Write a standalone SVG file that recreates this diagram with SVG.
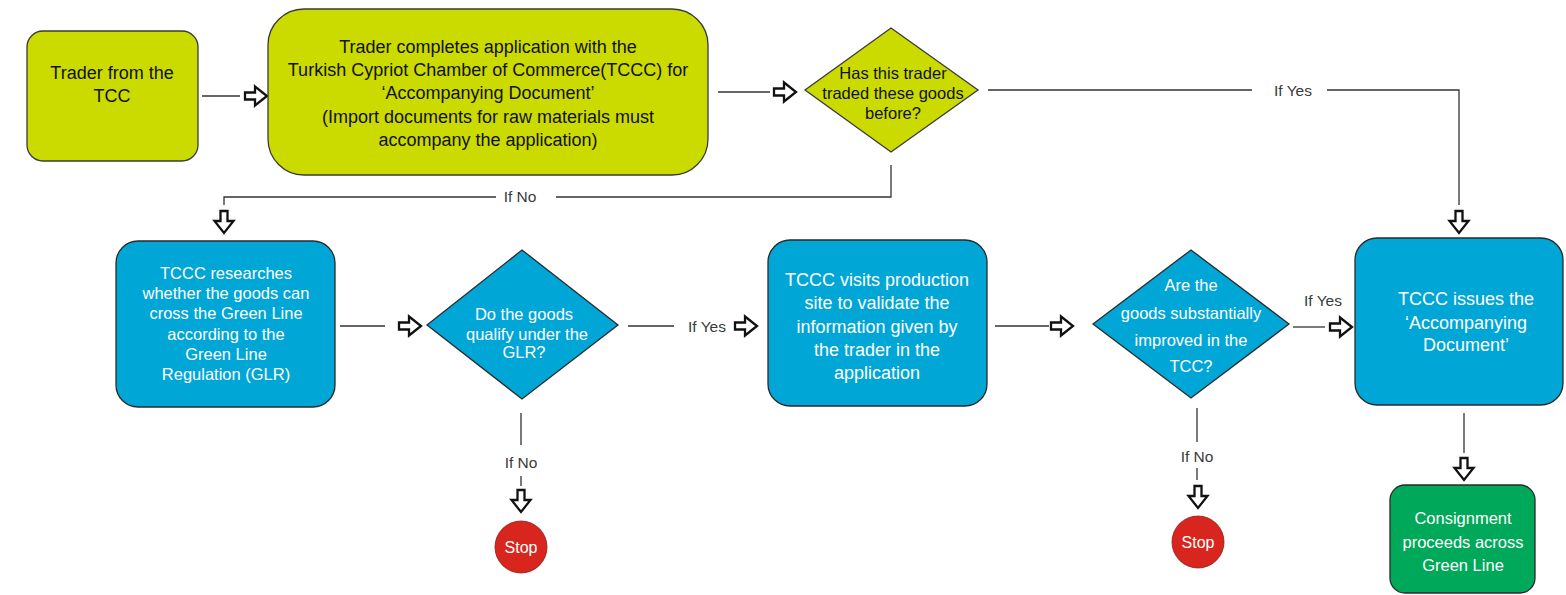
<svg xmlns="http://www.w3.org/2000/svg" xmlns:xlink="http://www.w3.org/1999/xlink" width="1566" height="595" viewBox="0 0 1566 595">
<style>
.yl{fill:#CBDB00;stroke:#3a3a3a;stroke-width:1.3}
.bl{fill:#00A6D6;stroke:#2a2a2a;stroke-width:1.3}
.gr{fill:#00A85A;stroke:#2a2a2a;stroke-width:1.3}
.rd{fill:#D8261E;stroke:#8a1a14;stroke-width:0.8}
text{font-family:"Liberation Sans",Arial,sans-serif;text-anchor:middle;dominant-baseline:central}
.tk{fill:#111;font-size:18px}
.tkd{fill:#111;font-size:16.5px}
.tw{fill:#fff;font-size:16.5px}
.tw18{fill:#fff;font-size:18px}
.lab{fill:#3a3a3a;font-size:15.5px}
.stop{fill:#fff;font-size:16px}
.ln{fill:none;stroke:#333;stroke-width:1.3}
.ar{fill:#fff;stroke:#111;stroke-width:2.3;stroke-linejoin:miter}
</style>
<defs>
<path id="arr" d="M0,-3.5 H10 V-9.5 L22,0 L10,9.5 V3.5 H0 Z"/>
</defs>

<g id="connectors">
<path class="ln" d="M202,96 H240"/>
<path class="ln" d="M718,92 H770"/>
<path class="ln" d="M988,90 H1252 M1327,90 H1459 V205"/>
<path class="ln" d="M891,165 V197 H556 M496,197 H224 V205"/>
<path class="ln" d="M340,326 H385"/>
<path class="ln" d="M628,326 H674"/>
<path class="ln" d="M995,326 H1049"/>
<path class="ln" d="M1293,327 H1325"/>
<path class="ln" d="M521,413 V445 M521,476 V486"/>
<path class="ln" d="M1197,408 V442 M1197,468 V480"/>
<path class="ln" d="M1464,413 V453"/>
<use xlink:href="#arr" class="ar" transform="translate(245,96)"/>
<use xlink:href="#arr" class="ar" transform="translate(774,92)"/>
<use xlink:href="#arr" class="ar" transform="translate(399,326)"/>
<use xlink:href="#arr" class="ar" transform="translate(735,326)"/>
<use xlink:href="#arr" class="ar" transform="translate(1051,326)"/>
<use xlink:href="#arr" class="ar" transform="translate(1330,327)"/>
<use xlink:href="#arr" class="ar" transform="translate(224,211) rotate(90)"/>
<use xlink:href="#arr" class="ar" transform="translate(1459,211) rotate(90)"/>
<use xlink:href="#arr" class="ar" transform="translate(521,490) rotate(90)"/>
<use xlink:href="#arr" class="ar" transform="translate(1198,486) rotate(90)"/>
<use xlink:href="#arr" class="ar" transform="translate(1464,458) rotate(90)"/>
<text class="lab" x="1293" y="90">If Yes</text>
<text class="lab" x="520" y="196">If No</text>
<text class="lab" x="707" y="326">If Yes</text>
<text class="lab" x="1323" y="300">If Yes</text>
<text class="lab" x="521" y="462">If No</text>
<text class="lab" x="1197" y="456">If No</text>
</g>

<g id="n1">
<rect class="yl" x="27" y="31" width="171" height="130" rx="16"/>
<text class="tk" x="112" y="73">Trader from the</text>
<text class="tk" x="112" y="96">TCC</text>
</g>

<g id="n2">
<rect class="yl" x="268" y="9" width="440" height="166" rx="36"/>
<text class="tk" x="488" y="47">Trader completes application with the</text>
<text class="tk" x="488" y="70">Turkish Cypriot Chamber of Commerce(TCCC) for</text>
<text class="tk" x="488" y="93">‘Accompanying Document’</text>
<text class="tk" x="488" y="117">(Import documents for raw materials must</text>
<text class="tk" x="488" y="140">accompany the application)</text>
</g>

<g id="d1">
<polygon class="yl" points="891,28 978,90 891,152 805,90"/>
<text class="tkd" x="893" y="73">Has this trader</text>
<text class="tkd" x="893" y="93">traded these goods</text>
<text class="tkd" x="893" y="113">before?</text>
</g>

<g id="n3">
<rect class="bl" x="116" y="241" width="219" height="166" rx="22"/>
<text class="tw" x="226" y="273">TCCC researches</text>
<text class="tw" x="226" y="293">whether the goods can</text>
<text class="tw" x="226" y="313">cross the Green Line</text>
<text class="tw" x="226" y="334">according to the</text>
<text class="tw" x="226" y="354">Green Line</text>
<text class="tw" x="226" y="374">Regulation (GLR)</text>
</g>

<g id="d2">
<polygon class="bl" points="522,250 618,325 522,399 427,325"/>
<text class="tw" x="524" y="314">Do the goods</text>
<text class="tw" x="527" y="334">qualify under the</text>
<text class="tw" x="524" y="352">GLR?</text>
</g>

<g id="n4">
<rect class="bl" x="768" y="240" width="219" height="166" rx="22"/>
<text class="tw18" x="877" y="280">TCCC visits production</text>
<text class="tw18" x="877" y="303">site to validate the</text>
<text class="tw18" x="877" y="327">information given by</text>
<text class="tw18" x="877" y="350">the trader in the</text>
<text class="tw18" x="877" y="373">application</text>
</g>

<g id="d3">
<polygon class="bl" points="1191,250 1289,324 1191,398 1093,324"/>
<text class="tw" x="1191" y="285">Are the</text>
<text class="tw" x="1191" y="313">goods substantially</text>
<text class="tw" x="1191" y="340">improved in the</text>
<text class="tw" x="1191" y="366">TCC?</text>
</g>

<g id="n5">
<rect class="bl" x="1355" y="238" width="208" height="167" rx="22"/>
<text class="tw18" x="1466" y="299">TCCC issues the</text>
<text class="tw18" x="1466" y="323">‘Accompanying</text>
<text class="tw18" x="1466" y="345">Document’</text>
</g>

<g id="n6">
<rect class="gr" x="1390" y="485" width="145" height="108" rx="15"/>
<text class="tw" x="1463" y="518">Consignment</text>
<text class="tw" x="1463" y="542">proceeds across</text>
<text class="tw" x="1463" y="565">Green Line</text>
</g>

<g id="stop1">
<circle class="rd" cx="521" cy="547" r="26"/>
<text class="stop" x="521" y="547">Stop</text>
</g>

<g id="stop2">
<circle class="rd" cx="1198" cy="542" r="26"/>
<text class="stop" x="1198" y="542">Stop</text>
</g>
</svg>
